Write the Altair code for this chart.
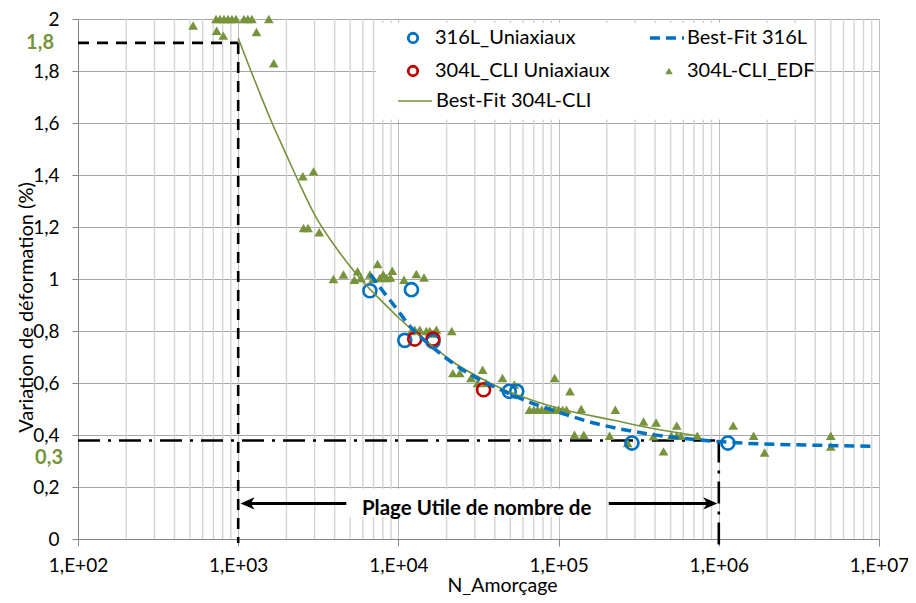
import altair as alt
import pandas as pd

# ---------------- data ----------------
# 304L-CLI_EDF (triangles)
edf_N = [523, 734, 807, 727, 769, 815, 863, 914, 968, 1086, 1149, 1217, 1553, 1300, 1667,
         2535, 2953, 2560, 2730, 3205,
         3930, 4540, 5310, 5560, 5840, 6640, 6960, 7410, 7660, 8040, 8440, 8920, 9150, 10840, 12940, 14450,
         12050, 12640, 13590, 14950, 15710, 16460, 17260, 21530,
         21880, 24180, 28380, 33560, 31200, 35240, 44640, 52810,
         94400, 117800, 138400, 226000,
         65800, 70000, 74000, 78500, 83500, 88500, 94000, 100000, 106000, 112000,
         125700, 143700, 208000, 270000, 339000, 391000, 406000, 452000, 546000, 506000, 546000, 580000,
         734000, 1230000, 1650000, 1930000, 5000000, 5000000]
edf_v = [1.975, 1.955, 1.936, 2.0, 2.0, 2.0, 2.0, 2.0, 2.0, 2.0, 2.0, 2.0, 2.0, 1.95, 1.83,
         1.395, 1.414, 1.196, 1.196, 1.18,
         1.0, 1.017, 0.997, 1.03, 1.004, 1.017, 1.001, 1.058, 1.004, 1.017, 1.004, 1.006, 1.032, 0.997, 1.019, 1.006,
         0.80, 0.805, 0.805, 0.80, 0.80, 0.79, 0.805, 0.80,
         0.638, 0.638, 0.619, 0.651, 0.60, 0.60, 0.619, 0.594,
         0.619, 0.568, 0.50, 0.497,
         0.497, 0.497, 0.497, 0.497, 0.497, 0.497, 0.497, 0.497, 0.497, 0.497,
         0.401, 0.401, 0.397, 0.369, 0.452, 0.395, 0.448, 0.337, 0.436, 0.397, 0.397, 0.397,
         0.397, 0.436, 0.397, 0.333, 0.397, 0.356]

# 316L_Uniaxiaux (blue open circles)
u316_N = [6640, 12060, 10960, 16440, 49200, 54800, 287000, 1140000]
u316_v = [0.955, 0.959, 0.764, 0.760, 0.568, 0.568, 0.369, 0.369]

# 304L_CLI Uniaxiaux (red open circles)
u304_N = [12650, 16440, 34030]
u304_v = [0.769, 0.769, 0.574]

# Best-Fit 316L (blue dashed)
fit316_N = [6672, 7697, 9676, 11820, 14860, 18420, 24510, 34550, 46000, 61240, 94040,
            174000, 355600, 727000, 1486000, 3874000, 9270000]
fit316_v = [1.018, 0.967, 0.888, 0.818, 0.759, 0.711, 0.655, 0.603, 0.567, 0.534, 0.493,
            0.443, 0.405, 0.382, 0.368, 0.361, 0.357]

# Best-Fit 304L-CLI (green line)
fit304_N = [1000, 1166, 1345, 1627, 1970, 2382, 3025, 4045, 5384, 6484, 7809, 9957, 11487,
            15965, 22400, 31260, 45810, 67010, 108000, 220900, 410200, 727000]
fit304_v = [1.927, 1.820, 1.724, 1.600, 1.486, 1.374, 1.243, 1.124, 1.024, 0.967, 0.917, 0.853, 0.818,
            0.747, 0.677, 0.625, 0.574, 0.536, 0.497, 0.457, 0.422, 0.397]

x_ticks = [1e2, 1e3, 1e4, 1e5, 1e6, 1e7]
y_ticks = [0, 0.2, 0.4, 0.6, 0.8, 1.0, 1.2, 1.4, 1.6, 1.8, 2.0]
minor_mult = [2, 3, 4, 5, 6, 7, 8, 9]
minor_N = [m * d for d in x_ticks[:-1] for m in minor_mult]

# reference levels
n_start, n_end = 1000, 1e6
lvl_hi, lvl_lo = 1.908, 0.379

# ---------------- styling ----------------
FONT = "Lato"
GREEN = "#77933C"
BLUE = "#0070C0"
RED = "#C00000"
W, H = 801, 520

xscale = alt.Scale(type="log", domain=[1e2, 1e7], nice=False)
yscale = alt.Scale(domain=[0, 2], nice=False, zero=False)

xaxis = alt.Axis(values=x_ticks, grid=True, gridColor="#bfbfbf", gridWidth=1,
                 labelExpr="'1,E+0' + round(log(datum.value)/LN10)",
                 labelFont=FONT, labelFontSize=19, labelColor="#000",
                 labelPadding=10, tickSize=7, tickColor="#868686",
                 domainColor="#868686", labelFlush=False, labelOverlap=False,
                 titleFont=FONT, titleFontSize=19.5, titleFontWeight="normal", titleColor="#000",
                 titleX=424, titleY=52, titleAlign="center", titleBaseline="alphabetic")
yaxis = alt.Axis(values=y_ticks, grid=True, gridColor="#a6a6a6", gridWidth=1,
                 labelExpr="replace(format(datum.value, '.1~f'), '.', ',')",
                 labelFont=FONT, labelFontSize=19, labelColor="#000",
                 labelPadding=13, tickSize=6, tickColor="#868686",
                 domainColor="#868686", labelOverlap=False,
                 titleFont=FONT, titleFontSize=20, titleFontWeight="normal", titleColor="#000",
                 titleX=-52, titleY=288, titleAlign="center", titleBaseline="middle")

X = alt.X("N:Q", scale=xscale, axis=xaxis, title="N_Amorçage")
Y = alt.Y("v:Q", scale=yscale, axis=yaxis, title="Variation de déformation (%)")

one = pd.DataFrame({"a": [0]})

# gridlines (minor vertical)
grid_minor = alt.Chart(pd.DataFrame({"N": minor_N})).mark_rule(
    color="#d4d4d4", strokeWidth=1.4).encode(x=X)

# white boxes (legend, annotation text)
box_df = pd.DataFrame({"N": [7260, 4540], "N2": [3.6e6, 186600],
                       "v": [1.985, 0.193], "v2": [1.613, 0.086]})
boxes = alt.Chart(box_df).mark_rect(color="white").encode(
    x=X, x2="N2:Q", y=Y, y2="v2:Q")

# reference lines
ref_dash = pd.DataFrame({"N": [100, n_start], "N2": [n_start, n_start],
                         "v": [lvl_hi, lvl_hi], "v2": [lvl_hi, -0.015]})
ref_dash_l = alt.Chart(ref_dash).mark_rule(color="black", strokeWidth=2.6,
                                           strokeDash=[11, 8]).encode(
    x=X, x2="N2:Q", y=Y, y2="v2:Q")
ref_dd = pd.DataFrame({"N": [100, n_end], "N2": [n_end, n_end],
                       "v": [lvl_lo, lvl_lo], "v2": [lvl_lo, -0.028]})
ref_dd_l = alt.Chart(ref_dd).mark_rule(color="black", strokeWidth=2.6,
                                       strokeDash=[22, 8, 3, 8]).encode(
    x=X, x2="N2:Q", y=Y, y2="v2:Q")

# data
tri = alt.Chart(pd.DataFrame({"N": edf_N, "v": edf_v})).mark_point(
    shape="triangle-up", filled=True, color=GREEN, size=95, opacity=1).encode(x=X, y=Y)
c316 = alt.Chart(pd.DataFrame({"N": u316_N, "v": u316_v})).mark_point(
    shape="circle", filled=False, color=BLUE, size=170, strokeWidth=2.6, opacity=1).encode(x=X, y=Y)
c304 = alt.Chart(pd.DataFrame({"N": u304_N, "v": u304_v})).mark_point(
    shape="circle", filled=False, color=RED, size=170, strokeWidth=2.6, opacity=1).encode(x=X, y=Y)
l304 = alt.Chart(pd.DataFrame({"N": fit304_N, "v": fit304_v})).mark_line(
    color=GREEN, strokeWidth=1.6, interpolate="monotone").encode(x=X, y=Y)
l316 = alt.Chart(pd.DataFrame({"N": fit316_N, "v": fit316_v})).mark_line(
    color=BLUE, strokeWidth=3.5, strokeDash=[10, 6], interpolate="monotone").encode(x=X, y=Y)

# annotation arrows and text
arr_df = pd.DataFrame({"N": [1143, 205600], "N2": [4730, 885000],
                       "v": [0.137, 0.137]})
arr_lines = alt.Chart(arr_df).mark_rule(color="black", strokeWidth=3).encode(
    x=X, x2="N2:Q", y=Y)
head_l = alt.Chart(pd.DataFrame({"N": [1143], "v": [0.137]})).mark_point(
    shape="M -1 0 L 1 -0.85 L 0.45 0 L 1 0.85 Z", filled=True, color="black",
    size=200, opacity=1).encode(x=X, y=Y)
head_r = alt.Chart(pd.DataFrame({"N": [885000], "v": [0.137]})).mark_point(
    shape="M 1 0 L -1 -0.85 L -0.45 0 L -1 0.85 Z", filled=True, color="black",
    size=200, opacity=1).encode(x=X, y=Y)
plage = alt.Chart(pd.DataFrame({"N": [30800], "v": [0.0935]})).mark_text(
    text="Plage Utile de nombre de", font=FONT, fontSize=20.5, fontWeight="bold",
    align="center", baseline="alphabetic", color="black").encode(x=X, y=Y)

# green labels on y axis
lab18 = alt.Chart(one).mark_text(text="1,8", font=FONT, fontSize=20, fontWeight="bold",
                                 color=GREEN, align="right", baseline="middle").encode(
    x=alt.value(-24), y=alt.value(24))
lab03 = alt.Chart(one).mark_text(text="0,3", font=FONT, fontSize=20, fontWeight="bold",
                                 color=GREEN, align="right", baseline="middle").encode(
    x=alt.value(-15), y=alt.value(439))

# manual legend (pixel positions inside the plot area)
def ltext(t, x, y):
    return alt.Chart(one).mark_text(text=t, font=FONT, fontSize=20, color="black",
                                    align="left", baseline="middle").encode(
        x=alt.value(x), y=alt.value(y))

leg = [
    alt.Chart(one).mark_point(shape="circle", filled=False, color=BLUE, size=90,
                              strokeWidth=2.8, opacity=1).encode(x=alt.value(335), y=alt.value(19)),
    ltext("316L_Uniaxiaux", 357, 19),
    alt.Chart(one).mark_rule(color=BLUE, strokeWidth=3.5, strokeDash=[10, 6]).encode(
        x=alt.value(572), x2=alt.value(606), y=alt.value(19)),
    ltext("Best-Fit 316L", 609, 19),
    alt.Chart(one).mark_point(shape="circle", filled=False, color=RED, size=90,
                              strokeWidth=2.8, opacity=1).encode(x=alt.value(335), y=alt.value(52)),
    ltext("304L_CLI Uniaxiaux", 357, 52),
    alt.Chart(one).mark_point(shape="triangle-up", filled=True, color=GREEN, size=55,
                              opacity=1).encode(x=alt.value(591), y=alt.value(52)),
    ltext("304L-CLI_EDF", 609, 52),
    alt.Chart(one).mark_rule(color=GREEN, strokeWidth=1.6).encode(
        x=alt.value(320), x2=alt.value(354), y=alt.value(82)),
    ltext("Best-Fit 304L-CLI", 358, 82),
]

chart = alt.layer(
    grid_minor, boxes, ref_dash_l, ref_dd_l, tri, c316, c304, l304, l316,
    arr_lines, head_l, head_r, plage, lab18, lab03, *leg
).properties(
    width=W, height=H,
    padding={"left": 70, "top": 11, "right": 29, "bottom": 56},
    autosize=alt.AutoSizeParams(type="none"),
    background="white",
).configure_view(stroke=None)

chart.save("out.html", embed_options={"renderer": "svg", "actions": False})
